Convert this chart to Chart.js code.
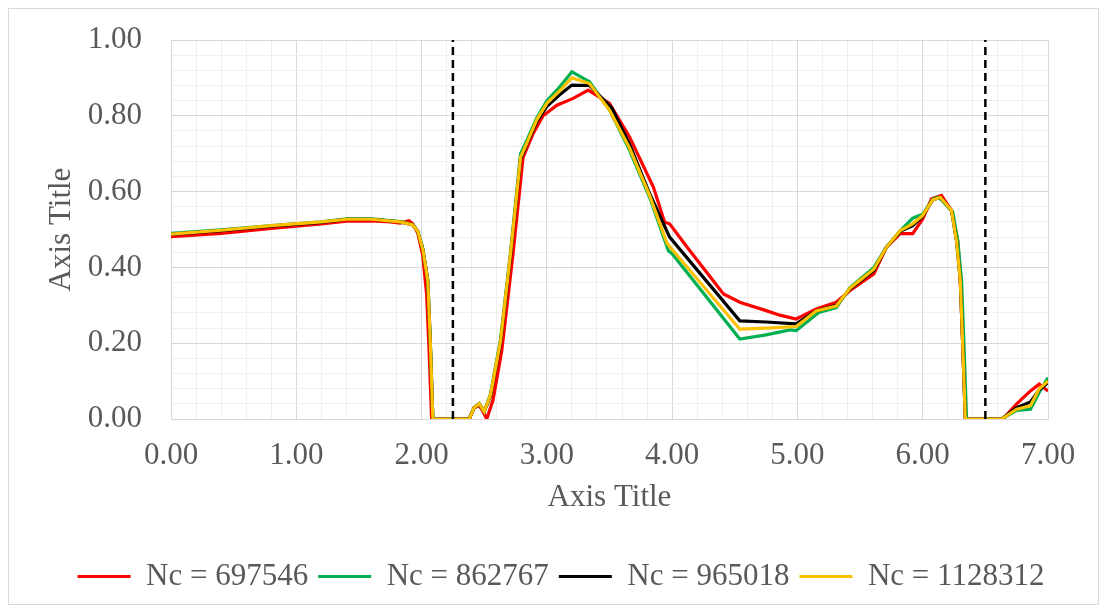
<!DOCTYPE html>
<html>
<head>
<meta charset="utf-8">
<script src="https://cdn.jsdelivr.net/npm/chart.js@4/dist/chart.umd.min.js"></script>
<style>
    body { margin: 0; background: #fff; }
    #chart { display: block; }
</style>
</head>
<body>
<canvas id="chart" width="1105" height="612"></canvas>
<script>
// values, [x, y]
const nc697546 = [[0,0.481],[0.4,0.490],[0.8,0.503],[1.2,0.515],[1.4,0.522],[1.6,0.523],[1.75,0.520],[1.83,0.517],[1.90,0.523],[1.93,0.515],[1.97,0.49],[2.01,0.43],[2.04,0.33],[2.06,0.18],[2.08,0],[2.38,0],[2.42,0.03],[2.46,0.035],[2.49,0.02],[2.52,0],[2.57,0.05],[2.64,0.18],[2.73,0.436],[2.81,0.69],[2.89,0.753],[2.97,0.80],[3.08,0.828],[3.21,0.846],[3.33,0.868],[3.50,0.833],[3.66,0.744],[3.85,0.612],[3.94,0.519],[3.98,0.515],[4.12,0.453],[4.41,0.33],[4.54,0.308],[4.75,0.286],[4.86,0.274],[4.99,0.264],[5.15,0.29],[5.31,0.308],[5.42,0.339],[5.61,0.383],[5.71,0.453],[5.82,0.489],[5.92,0.489],[6.00,0.528],[6.07,0.581],[6.15,0.59],[6.23,0.55],[6.28,0.47],[6.30,0.365],[6.32,0.19],[6.34,0],[6.64,0],[6.75,0.04],[6.86,0.074],[6.93,0.092],[7.00,0.074]];
const nc862767 = [[0,0.490],[0.4,0.499],[0.8,0.510],[1.2,0.520],[1.4,0.528],[1.6,0.528],[1.83,0.521],[1.93,0.513],[1.97,0.495],[2.01,0.45],[2.05,0.365],[2.07,0.2],[2.09,0],[2.38,0],[2.42,0.03],[2.46,0.04],[2.50,0.02],[2.55,0.065],[2.63,0.21],[2.71,0.44],[2.79,0.70],[2.84,0.735],[2.92,0.795],[3.00,0.84],[3.10,0.875],[3.20,0.916],[3.34,0.89],[3.50,0.815],[3.66,0.709],[3.82,0.585],[3.97,0.444],[4.00,0.436],[4.54,0.211],[4.75,0.222],[4.94,0.235],[4.99,0.233],[5.17,0.281],[5.31,0.294],[5.42,0.347],[5.61,0.40],[5.71,0.453],[5.83,0.50],[5.92,0.53],[6.00,0.54],[6.08,0.58],[6.12,0.585],[6.15,0.578],[6.24,0.546],[6.28,0.47],[6.31,0.365],[6.33,0.19],[6.35,0],[6.63,0],[6.75,0.023],[6.86,0.026],[6.93,0.07],[7.00,0.109]];
const nc965018 = [[0,0.487],[0.4,0.497],[0.8,0.509],[1.2,0.519],[1.4,0.527],[1.6,0.527],[1.83,0.520],[1.93,0.512],[1.97,0.495],[2.01,0.447],[2.05,0.365],[2.07,0.2],[2.09,0],[2.38,0],[2.42,0.03],[2.46,0.04],[2.50,0.02],[2.55,0.06],[2.63,0.20],[2.71,0.43],[2.79,0.685],[2.84,0.725],[2.92,0.785],[3.00,0.825],[3.10,0.855],[3.20,0.881],[3.34,0.88],[3.52,0.82],[3.66,0.725],[3.82,0.595],[3.98,0.48],[4.54,0.259],[4.75,0.256],[4.99,0.251],[5.15,0.285],[5.31,0.30],[5.42,0.343],[5.61,0.392],[5.71,0.453],[5.82,0.495],[5.92,0.51],[6.00,0.535],[6.08,0.578],[6.14,0.585],[6.23,0.55],[6.27,0.47],[6.30,0.365],[6.32,0.19],[6.34,0],[6.63,0],[6.75,0.03],[6.86,0.045],[6.93,0.077],[7.00,0.096]];
const nc1128312 = [[0,0.488],[0.4,0.498],[0.8,0.510],[1.2,0.520],[1.4,0.527],[1.6,0.527],[1.83,0.520],[1.93,0.512],[1.97,0.495],[2.01,0.447],[2.05,0.365],[2.07,0.2],[2.09,0],[2.38,0],[2.42,0.03],[2.46,0.04],[2.50,0.02],[2.55,0.063],[2.63,0.205],[2.71,0.436],[2.79,0.69],[2.84,0.728],[2.92,0.79],[3.00,0.833],[3.10,0.865],[3.20,0.90],[3.34,0.885],[3.50,0.815],[3.66,0.715],[3.82,0.59],[3.96,0.463],[4.54,0.237],[4.75,0.240],[4.99,0.244],[5.15,0.285],[5.31,0.298],[5.42,0.345],[5.61,0.395],[5.71,0.453],[5.82,0.497],[5.92,0.515],[6.00,0.537],[6.08,0.578],[6.14,0.585],[6.23,0.55],[6.27,0.47],[6.30,0.365],[6.32,0.19],[6.34,0],[6.63,0],[6.75,0.026],[6.86,0.035],[6.93,0.08],[7.00,0.10]];

const seriesNames = ['Nc = 697546', 'Nc = 862767', 'Nc = 965018', 'Nc = 1128312'];
const seriesColors = ['#ff0000', '#00b050', '#000000', '#ffc000'];
const markerX = [2.25, 6.5];

const font = "'Liberation Serif', 'Times New Roman', serif";
const textColor = '#595959';

let datasets = [nc697546, nc862767, nc965018, nc1128312].map((s, i) => ({
    label: seriesNames[i],
    data: s.map(p => ({x: p[0], y: p[1]})),
    borderColor: seriesColors[i],
    backgroundColor: seriesColors[i],
    borderWidth: 3.2,
    pointRadius: 0,
    tension: 0,
    order: 4 - i
}));
for (let i = 0; i < markerX.length; i++) {
    datasets.push({
        label: 'marker',
        data: [{x: markerX[i], y: 0}, {x: markerX[i], y: 1}],
        borderColor: '#000',
        borderWidth: 2.5,
        borderDash: [8, 5],
        pointRadius: 0,
        order: 0
    });
}

const isMajor = (v, step) => Math.abs(v / step - Math.round(v / step)) < 1e-6;

new Chart(document.getElementById('chart'), {
    type: 'line',
    data: { datasets: datasets },
    options: {
        responsive: false,
        animation: false,
        layout: { padding: { left: 40, right: 57, top: 40, bottom: 10 } },
        plugins: {
            tooltip: { enabled: false },
            legend: {
                position: 'bottom',
                labels: {
                    color: textColor,
                    font: { family: font, size: 31 },
                    boxWidth: 53,
                    boxHeight: 3,
                    padding: 10,
                    filter: item => item.text !== 'marker',
                    sort: (a, b) => a.datasetIndex - b.datasetIndex,
                    generateLabels: chart => Chart.defaults.plugins.legend.labels.generateLabels(chart).map(l => {
                        l.lineWidth = 0;
                        l.fillStyle = l.strokeStyle;
                        l.lineDash = [];
                        return l;
                    })
                }
            }
        },
        scales: {
            x: {
                type: 'linear',
                min: 0,
                max: 7,
                afterFit: scale => { scale.height = 132; },
                border: { color: '#d9d9d9' },
                grid: {
                    drawTicks: false,
                    color: c => isMajor(c.tick.value, 1) ? '#d9d9d9' : '#efefef'
                },
                ticks: {
                    stepSize: 0.2,
                    autoSkip: false,
                    maxRotation: 0,
                    padding: 18,
                    color: textColor,
                    font: { family: font, size: 31 },
                    callback: v => isMajor(v, 1) ? v.toFixed(2) : ''
                },
                title: {
                    display: true,
                    text: 'Axis Title',
                    color: textColor,
                    font: { family: font, size: 31, lineHeight: 1 },
                    padding: { top: 0, bottom: 38 }
                }
            },
            y: {
                min: 0,
                max: 1,
                afterFit: scale => {
                    scale.width = 131;
                    scale.paddingTop = 0;
                    scale.paddingBottom = 0;
                },
                border: { color: '#d9d9d9' },
                grid: {
                    drawTicks: false,
                    color: c => isMajor(c.tick.value, 0.2) ? '#d9d9d9' : '#efefef'
                },
                ticks: {
                    stepSize: 0.04,
                    autoSkip: false,
                    padding: 29,
                    color: textColor,
                    font: { family: font, size: 31 },
                    callback: v => isMajor(v, 0.2) ? v.toFixed(2) : ''
                },
                title: {
                    display: true,
                    text: 'Axis Title',
                    color: textColor,
                    font: { family: font, size: 31, lineHeight: 1 },
                    padding: { top: 6, bottom: 0 }
                }
            }
        }
    },
    plugins: [{
        id: 'frame',
        afterLayout: chart => {
            // legend sits a bit right of centre in the reference
            chart.legend.left += 17;
            chart.legend.right += 17;
        },
        beforeDraw: chart => {
            const ctx = chart.ctx;
            ctx.save();
            ctx.fillStyle = '#fff';
            ctx.fillRect(0, 0, chart.width, chart.height);
            ctx.strokeStyle = '#d9d9d9';
            ctx.lineWidth = 1;
            ctx.strokeRect(8.5, 8.5, 1090, 596);
            ctx.restore();
        }
    }]
});
</script>
</body>
</html>
